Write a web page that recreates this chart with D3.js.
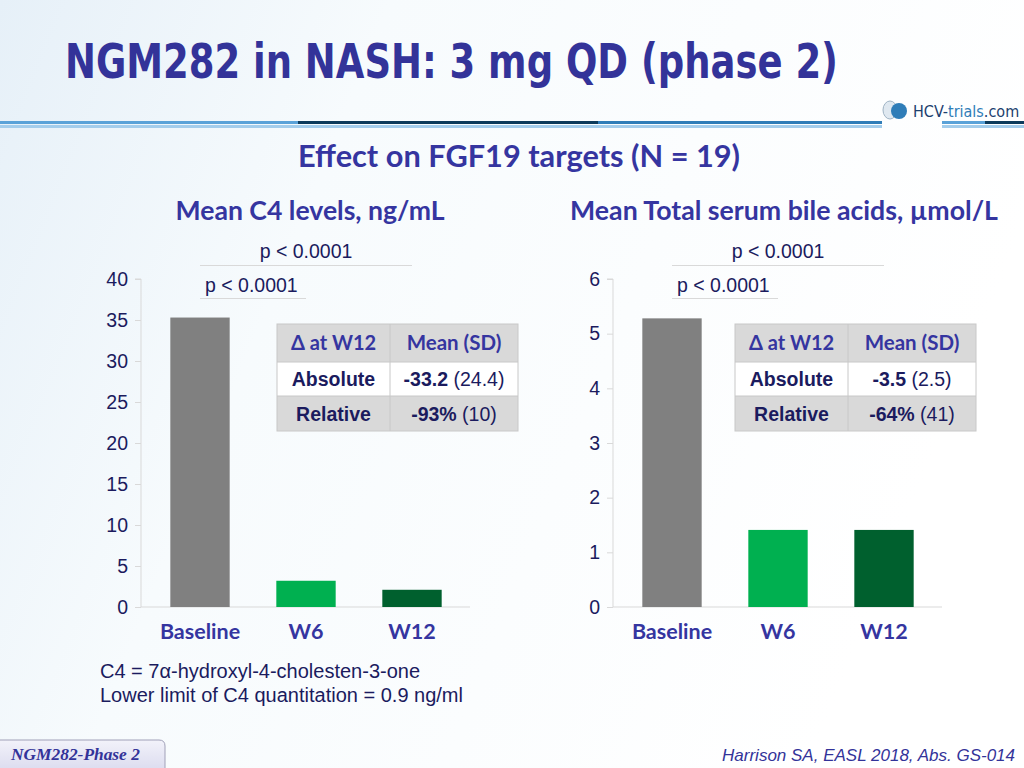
<!DOCTYPE html>
<html><head><meta charset="utf-8">
<script src="https://cdn.jsdelivr.net/npm/d3@7/dist/d3.min.js"></script>
<style>body{margin:0;padding:0;overflow:hidden;background:#fff}svg{display:block}</style>
</head><body>
<svg id="c" width="1024" height="768"></svg>
<script>
const categories = ["Baseline", "W6", "W12"];
const c4Values = [35.3, 3.2, 2.1];
const bileValues = [5.28, 1.41, 1.41];
const c4Ticks = [0, 5, 10, 15, 20, 25, 30, 35, 40];
const bileTicks = [0, 1, 2, 3, 4, 5, 6];
const barColors = ["#808080", "#00b050", "#00602e"];
const tableHeader = ["Δ at W12", "Mean (SD)"];
const c4Table = [["Absolute", "-33.2", " (24.4)"], ["Relative", "-93%", " (10)"]];
const bileTable = [["Absolute", "-3.5", " (2.5)"], ["Relative", "-64%", " (41)"]];
const pLabel = "p < 0.0001";

const svg = d3.select("#c");
const defs = svg.append("defs");
const bg = defs.append("linearGradient").attr("id","bg").attr("x1","0").attr("y1","0").attr("x2","1").attr("y2","0.3");
bg.append("stop").attr("offset","0").attr("stop-color","#e6f0f8");
bg.append("stop").attr("offset","0.35").attr("stop-color","#f7fbfd");
bg.append("stop").attr("offset","1").attr("stop-color","#ffffff");
svg.append("rect").attr("width",1024).attr("height",768).attr("fill","url(#bg)");

const navy = "#333399";
const titleBlue = "#3535a0";
const dark = "#1b1b5e";
const ARIAL = "Arial, 'Liberation Sans', sans-serif";
const CAL = "Lato, 'Open Sans', sans-serif";

function fit(sel, target){
  const fs = +sel.attr("font-size");
  const w = sel.node().getComputedTextLength();
  sel.attr("font-size", fs * target / w);
  return sel;
}

// Title
svg.append("text").attr("x",65).attr("y",78)
  .attr("font-family","'DejaVu Sans Condensed', 'DejaVu Sans', sans-serif")
  .attr("font-weight","bold").attr("font-size",48).attr("fill",navy)
  .attr("textLength",773).attr("lengthAdjust","spacingAndGlyphs")
  .text("NGM282 in NASH: 3 mg QD (phase 2)");

// stripes
const stripes = [
  [0,298,121,3,"#5aa2d8"],[298,598,121,3,"#0c3b5c"],[598,882,121,3,"#2f7db8"],
  [942,985,121,3,"#5aa2d8"],[985,1024,121,3,"#0c3b5c"],
  [0,882,125,3,"#a3cdec"],[942,1024,125,3,"#a3cdec"]
];
stripes.forEach(s => svg.append("rect").attr("x",s[0]).attr("y",s[2]).attr("width",s[1]-s[0]).attr("height",s[3]).attr("fill",s[4]));
// logo
const lg = svg.append("g");
lg.append("ellipse").attr("cx",890).attr("cy",110).attr("rx",7).attr("ry",9).attr("fill","#dfe8f0").attr("stroke","#9fb3c4");
lg.append("circle").attr("cx",899).attr("cy",111).attr("r",8).attr("fill","#2f7db8");
lg.append("text").attr("x",913).attr("y",117).attr("font-family","'DejaVu Sans Condensed', sans-serif").attr("font-size",16).attr("fill","#1c3f6e")
  .html('HCV-<tspan fill="#2f7db8">trials</tspan>.com');

// subtitle
fit(svg.append("text").attr("x",519).attr("y",167).attr("text-anchor","middle")
  .attr("font-family",CAL).attr("font-weight","bold").attr("font-size",27)
  .attr("fill",titleBlue).text("Effect on FGF19 targets (N = 19)"), 442);

function chart(opt){
  const g = svg.append("g");
  const y = d3.scaleLinear().domain([0, opt.max]).range([607, 279]);
  const x = d3.scaleBand().domain(categories).range([opt.x0+6, opt.x0+324]).paddingInner(0.44).paddingOuter(0.22);
  // chart title
  fit(g.append("text").attr("x",opt.titleX).attr("y",220).attr("text-anchor","middle")
    .attr("font-family",CAL).attr("font-weight","bold").attr("font-size",23)
    .attr("fill",titleBlue).text(opt.title), opt.titleW);
  // axes
  const ya = g.append("g").attr("transform",`translate(${opt.x0},0)`)
    .call(d3.axisLeft(y).tickValues(opt.ticks).tickSize(6).tickPadding(7).tickFormat(d3.format("d")));
  ya.select(".domain").attr("stroke","#d9d9d9").attr("d",`M-6,${y(opt.max)}H0V607`);
  ya.selectAll(".tick line").attr("stroke","#d9d9d9");
  ya.selectAll(".tick text").attr("font-family",ARIAL).attr("font-size",19.5).attr("fill",dark);
  g.append("line").attr("x1",opt.x0).attr("x2",opt.x0+329).attr("y1",607).attr("y2",607).attr("stroke","#d9d9d9");
  // bars
  g.selectAll("rect.bar").data(opt.values).join("rect").attr("class","bar")
    .attr("x",(d,i)=>x(categories[i])).attr("width",x.bandwidth())
    .attr("y",d=>y(d)).attr("height",d=>607-y(d))
    .attr("fill",(d,i)=>barColors[i]);
  // category labels
  g.selectAll("text.cat").data(categories).join("text").attr("class","cat")
    .attr("x",d=>x(d)+x.bandwidth()/2).attr("y",639).attr("text-anchor","middle")
    .attr("font-family",CAL).attr("font-weight","bold").attr("font-size",21.5)
    .attr("fill",titleBlue).text(d=>d);
  // p-values
  const cx = i => x(categories[i]) + x.bandwidth()/2;
  g.append("line").attr("x1",cx(0)).attr("x2",cx(2)).attr("y1",265.5).attr("y2",265.5).attr("stroke","#d9d9d9");
  g.append("text").attr("x",(cx(0)+cx(2))/2).attr("y",258).attr("text-anchor","middle")
    .attr("font-family",ARIAL).attr("font-size",19.5).attr("fill",dark).text(pLabel);
  g.append("line").attr("x1",cx(0)).attr("x2",cx(1)).attr("y1",298.5).attr("y2",298.5).attr("stroke","#d9d9d9");
  g.append("text").attr("x",cx(0)+5).attr("y",292)
    .attr("font-family",ARIAL).attr("font-size",19.5).attr("fill",dark).text(pLabel);
  // table
  const tx = opt.tableX, ty = 324, w1 = 113, w2 = 128, rh = [38, 34, 35];
  const tg = g.append("g");
  let yy = ty;
  const rows = [tableHeader].concat(opt.table);
  rows.forEach((r, i) => {
    const fill = i === 1 ? "#ffffff" : "#d9d9d9";
    tg.append("rect").attr("x",tx).attr("y",yy).attr("width",w1+w2).attr("height",rh[i]).attr("fill",fill);
    const mid = yy + rh[i]/2;
    if (i === 0) {
      tg.append("text").attr("x",tx+w1/2).attr("y",mid+7).attr("text-anchor","middle")
        .attr("font-family",CAL).attr("font-weight","bold").attr("font-size",20).attr("fill",titleBlue).text(r[0]);
      tg.append("text").attr("x",tx+w1+w2/2).attr("y",mid+7).attr("text-anchor","middle")
        .attr("font-family",CAL).attr("font-weight","bold").attr("font-size",20.5).attr("fill",titleBlue).text(r[1]);
    } else {
      tg.append("text").attr("x",tx+w1/2).attr("y",mid+7).attr("text-anchor","middle")
        .attr("font-family",ARIAL).attr("font-weight","bold").attr("font-size",19.5).attr("fill",dark).text(r[0]);
      const t = tg.append("text").attr("x",tx+w1+w2/2).attr("y",mid+7).attr("text-anchor","middle")
        .attr("font-family",ARIAL).attr("font-size",19.5).attr("fill",dark);
      t.append("tspan").attr("font-weight","bold").text(r[1]);
      t.append("tspan").text(r[2]);
    }
    yy += rh[i];
  });
  tg.append("rect").attr("x",tx).attr("y",ty).attr("width",w1+w2).attr("height",rh[0]+rh[1]+rh[2]).attr("fill","none").attr("stroke","#c8c8c8");
  tg.append("line").attr("x1",tx+w1).attr("x2",tx+w1).attr("y1",ty).attr("y2",ty+rh[0]+rh[1]+rh[2]).attr("stroke","#c8c8c8");
  tg.append("line").attr("x1",tx).attr("x2",tx+w1+w2).attr("y1",ty+rh[0]).attr("y2",ty+rh[0]).attr("stroke","#c8c8c8");
  tg.append("line").attr("x1",tx).attr("x2",tx+w1+w2).attr("y1",ty+rh[0]+rh[1]).attr("y2",ty+rh[0]+rh[1]).attr("stroke","#c8c8c8");
}

chart({x0:141, max:40, ticks:c4Ticks, values:c4Values, title:"Mean C4 levels, ng/mL", titleX:310, titleW:269, tableX:277, table:c4Table});
chart({x0:613, max:6, ticks:bileTicks, values:bileValues, title:"Mean Total serum bile acids, µmol/L", titleX:784, titleW:428, tableX:735, table:bileTable});

// footnotes
svg.append("text").attr("x",100).attr("y",678).attr("font-family",ARIAL).attr("font-size",20).attr("fill",dark)
  .text("C4 = 7α-hydroxyl-4-cholesten-3-one");
svg.append("text").attr("x",100).attr("y",702).attr("font-family",ARIAL).attr("font-size",20).attr("fill",dark)
  .text("Lower limit of C4 quantitation = 0.9 ng/ml");

// footer box
const fb = defs.append("linearGradient").attr("id","fb").attr("x1","0").attr("y1","0").attr("x2","0").attr("y2","1");
fb.append("stop").attr("offset","0").attr("stop-color","#f2f2fa");
fb.append("stop").attr("offset","1").attr("stop-color","#dcdcef");
svg.append("path").attr("d","M-2,740 H159 Q165,740 165,746 V770 H-2 Z").attr("fill","url(#fb)").attr("stroke","#a0a0b8");
fit(svg.append("text").attr("x",11).attr("y",760).attr("font-family","'Liberation Serif', 'DejaVu Serif', serif")
  .attr("font-weight","bold").attr("font-style","italic").attr("font-size",16).attr("fill",navy).text("NGM282-Phase 2"), 129);
svg.append("text").attr("x",1015).attr("y",761).attr("text-anchor","end").attr("font-family",ARIAL)
  .attr("font-style","italic").attr("font-size",17).attr("fill",navy).text("Harrison SA, EASL 2018, Abs. GS-014");
</script>
</body></html>
